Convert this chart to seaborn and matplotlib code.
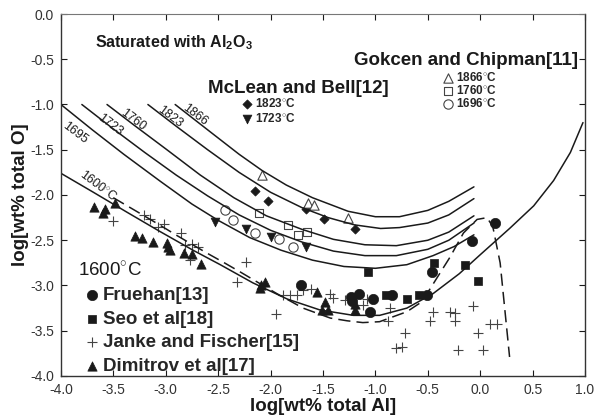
import numpy as np
import pandas as pd
import matplotlib.pyplot as plt
import seaborn as sns
from matplotlib.legend import Legend

sns.set_style("ticks")
plt.rcParams["font.family"] = ["Liberation Sans", "DejaVu Sans"]
plt.rcParams["mathtext.fontset"] = "custom"
plt.rcParams["mathtext.rm"] = "Liberation Sans"
plt.rcParams["mathtext.bf"] = "Liberation Sans:bold"

# ============================================================
# EQUILIBRIUM CURVES
# ============================================================

c1600_x = [-4.0, -3.69, -3.37, -3.06, -2.74, -2.48, -2.17, -1.84, -1.53, -1.21, -0.96, -0.70, -0.45, -0.20, 0.0, 0.28, 0.51, 0.70, 0.86, 0.98]
c1600_y = [-1.76, -1.97, -2.19, -2.40, -2.61, -2.77, -2.97, -3.15, -3.27, -3.33, -3.33, -3.25, -3.09, -2.87, -2.66, -2.37, -2.12, -1.84, -1.53, -1.20]

c1695_x = [-4.0, -3.7, -3.4, -3.05, -2.75, -2.5, -2.2, -1.9, -1.6, -1.3, -1.0, -0.7, -0.45, -0.25, -0.06]
c1695_y = [-1.00, -1.28, -1.55, -1.85, -2.10, -2.28, -2.47, -2.61, -2.72, -2.79, -2.81, -2.77, -2.67, -2.57, -2.44]

c1723_x = [-3.80, -3.5, -3.2, -2.9, -2.6, -2.3, -2.0, -1.7, -1.4, -1.1, -0.8, -0.5, -0.3, -0.06]
c1723_y = [-1.00, -1.27, -1.53, -1.78, -2.01, -2.22, -2.39, -2.52, -2.62, -2.67, -2.67, -2.60, -2.50, -2.31]

c1760_x = [-3.56, -3.3, -3.0, -2.67, -2.35, -2.04, -1.7, -1.4, -1.1, -0.8, -0.5, -0.3, -0.06]
c1760_y = [-1.00, -1.23, -1.49, -1.78, -2.03, -2.23, -2.38, -2.49, -2.55, -2.56, -2.50, -2.41, -2.23]

c1823_x = [-3.17, -2.9, -2.6, -2.3, -2.0, -1.7, -1.45, -1.2, -0.95, -0.77, -0.5, -0.3, -0.06]
c1823_y = [-1.00, -1.24, -1.50, -1.75, -1.97, -2.14, -2.25, -2.33, -2.37, -2.36, -2.31, -2.22, -2.04]

c1866_x = [-2.91, -2.6, -2.3, -2.08, -1.85, -1.6, -1.26, -1.0, -0.77, -0.5, -0.3, -0.06]
c1866_y = [-1.00, -1.28, -1.55, -1.73, -1.89, -2.03, -2.18, -2.24, -2.24, -2.17, -2.07, -1.91]

# dashed 1600 curve (other model)
dash_x = [-3.50, -3.25, -3.06, -2.89, -2.61, -2.44, -2.29, -1.94, -1.69, -1.43, -1.27, -1.12, -0.96, -0.70, -0.57, -0.48, -0.29, -0.16, -0.03, 0.065, 0.12, 0.19, 0.28]
dash_y = [-2.03, -2.20, -2.33, -2.45, -2.64, -2.75, -2.85, -3.09, -3.25, -3.36, -3.39, -3.41, -3.40, -3.29, -3.19, -3.04, -2.69, -2.42, -2.27, -2.25, -2.35, -2.75, -3.79]

curve_labels = ["1866", "1823", "1760", "1723", "1695", "1600$^{\\circ}$C"]
label_x = [-2.72, -2.96, -3.31, -3.53, -3.87, -3.64]
label_y = [-1.12, -1.14, -1.17, -1.23, -1.32, -1.90]

# ============================================================
# EXPERIMENTAL DATA
# ============================================================

# McLean and Bell
mb1823_x = [-2.15, -2.02, -1.66, -1.49, -1.19]
mb1823_y = [-1.96, -2.07, -2.15, -2.27, -2.38]
mb1723_x = [-2.53, -2.23, -2.00, -1.66]
mb1723_y = [-2.30, -2.38, -2.46, -2.57]

# Gokcen and Chipman
gc1866_x = [-2.08, -1.64, -1.59, -1.26]
gc1866_y = [-1.78, -2.09, -2.11, -2.25]
gc1760_x = [-2.11, -1.83, -1.74, -1.65]
gc1760_y = [-2.20, -2.33, -2.44, -2.41]
gc1696_x = [-2.43, -2.36, -2.15, -1.92, -1.79]
gc1696_y = [-2.17, -2.28, -2.42, -2.49, -2.57]

# 1600 C data
fru_x = [-1.71, -1.23, -1.16, -1.22, -1.02, -1.05, -0.84, -0.51, -0.46, -0.08, 0.14]
fru_y = [-3.00, -3.13, -3.09, -3.17, -3.15, -3.29, -3.10, -3.10, -2.85, -2.51, -2.31]

seo_x = [-1.07, -0.90, -0.70, -0.58, -0.44, -0.15, -0.02]
seo_y = [-2.85, -3.10, -3.15, -3.10, -2.75, -2.77, -2.95]

jf_x = [-3.50, -3.21, -3.15, -3.07, -3.02, -2.85, -2.82, -2.75, -2.69, -2.77, -2.23, -2.32,
        -1.95, -1.88, -1.81, -1.75, -1.69, -1.61, -1.43, -1.40, -1.29, -1.12, -1.08, -0.86,
        -0.88, -0.72, -0.80, -0.75, -0.45, -0.48, -0.29, -0.24, -0.24, -0.07, -0.21, -0.02,
        0.03, 0.09, 0.16]
jf_y = [-2.29, -2.22, -2.27, -2.35, -2.32, -2.42, -2.55, -2.54, -2.57, -2.72, -2.74, -2.96,
        -3.31, -3.10, -3.10, -3.10, -3.05, -3.04, -3.09, -3.14, -3.16, -3.22, -3.15, -3.25,
        -3.39, -3.53, -3.69, -3.68, -3.29, -3.39, -3.29, -3.30, -3.39, -3.23, -3.71, -3.53,
        -3.71, -3.42, -3.42]

dim_x = [-3.68, -3.58, -3.60, -3.48, -3.29, -3.23, -3.12, -2.99, -2.98, -2.96, -2.83, -2.75,
         -2.66, -2.05, -2.09, -2.10, -1.56, -1.48, -1.51, -1.45, -1.19, -1.19]
dim_y = [-2.13, -2.15, -2.20, -2.09, -2.45, -2.48, -2.52, -2.53, -2.57, -2.61, -2.64, -2.65,
         -2.76, -2.96, -2.99, -3.03, -3.07, -3.18, -3.27, -3.27, -3.20, -3.27]

x_ticks = [-4.0, -3.5, -3.0, -2.5, -2.0, -1.5, -1.0, -0.5, 0.0, 0.5, 1.0]
y_ticks = [0.0, -0.5, -1.0, -1.5, -2.0, -2.5, -3.0, -3.5, -4.0]

# ============================================================
# PLOT
# ============================================================

ink = "#1a1a1a"

fig = plt.figure(figsize=(5.97, 4.18), dpi=100)
ax = fig.add_axes([0.102, 0.1005, 0.878, 0.866])

solid = [(c1600_x, c1600_y), (c1695_x, c1695_y), (c1723_x, c1723_y),
         (c1760_x, c1760_y), (c1823_x, c1823_y), (c1866_x, c1866_y)]
for cx, cy in solid:
    sns.lineplot(x=cx, y=cy, ax=ax, color=ink, lw=1.1, estimator=None, sort=False)

sns.lineplot(x=dash_x, y=dash_y, ax=ax, color=ink, lw=1.1, estimator=None, sort=False,
             linestyle=(0, (8, 4)))

for lab, lx, ly in zip(curve_labels, label_x, label_y):
    ax.text(lx, ly, lab, rotation=-37, ha="center", va="center", fontsize=9,
            color=ink, rotation_mode="anchor")

def pts(x, y, **kw):
    sns.scatterplot(x=x, y=y, ax=ax, legend=False, **kw)
    return ax.collections[-1]

h_mb1823 = pts(mb1823_x, mb1823_y, marker="D", s=22, color=ink, edgecolor=ink, linewidth=0.5)
h_mb1723 = pts(mb1723_x, mb1723_y, marker="v", s=40, color=ink, edgecolor=ink, linewidth=0.5)

h_gc1866 = pts(gc1866_x, gc1866_y, marker="^", s=45, facecolor="white", edgecolor="#444", linewidth=0.8)
h_gc1760 = pts(gc1760_x, gc1760_y, marker="s", s=28, facecolor="white", edgecolor="#444", linewidth=0.8)
h_gc1696 = pts(gc1696_x, gc1696_y, marker="o", s=45, facecolor="white", edgecolor="#444", linewidth=0.8)

h_jf = pts(jf_x, jf_y, marker="+", s=45, color="#444", linewidth=0.8)
h_dim = pts(dim_x, dim_y, marker="^", s=45, color=ink, edgecolor=ink, linewidth=0.5)
h_seo = pts(seo_x, seo_y, marker="s", s=32, color=ink, edgecolor=ink, linewidth=0.5)
h_fru = pts(fru_x, fru_y, marker="o", s=55, color=ink, edgecolor=ink, linewidth=0.5)

# ============================================================
# AXES
# ============================================================

ax.set_xlim(-4.0, 1.0)
ax.set_ylim(-4.0, 0.0)
ax.set_xticks(x_ticks)
ax.set_yticks(y_ticks)
ax.set_xticklabels([f"{v:.1f}" for v in x_ticks])
ax.set_yticklabels([f"{v:.1f}" for v in y_ticks])
ax.tick_params(direction="in", length=4, width=0.8, colors=ink, labelcolor="#333",
               labelsize=10, top=True, right=True, pad=5)

for side in ["left", "bottom", "right"]:
    ax.spines[side].set_color("#333")
    ax.spines[side].set_linewidth(1.0)
ax.spines["top"].set_color("#777")
ax.spines["top"].set_linewidth(0.8)
ax.spines["top"].set_linestyle((0, (1, 1)))

ax.set_xlabel("log[wt% total Al]", fontsize=13.5, fontweight="bold", color=ink, labelpad=1)
ax.set_ylabel("log[wt% total O]", fontsize=13.5, fontweight="bold", color=ink, labelpad=1)

ax.text(-3.67, -0.32, "Saturated with Al$_\\mathbf{2}$O$_\\mathbf{3}$", fontsize=11.5,
        fontweight="bold", color=ink, va="center", ha="left")

# ============================================================
# LEGENDS
# ============================================================

leg_kw = dict(frameon=False, handletextpad=0.2, borderaxespad=0, borderpad=0, handlelength=1.0)

ax.text(-2.60, -0.82, "McLean and Bell[12]", fontsize=13.5, fontweight="bold",
        color=ink, va="center", ha="left")
leg_mb = Legend(ax, [h_mb1823, h_mb1723], ["1823$^{\\circ}$C", "1723$^{\\circ}$C"],
                loc="upper left", bbox_to_anchor=(0.3435, 0.771),
                prop={"size": 8.5, "weight": "bold"}, labelspacing=0.15, **leg_kw)
ax.add_artist(leg_mb)

ax.text(-1.20, -0.51, "Gokcen and Chipman[11]", fontsize=13.5, fontweight="bold",
        color=ink, va="center", ha="left")
leg_gc = Legend(ax, [h_gc1866, h_gc1760, h_gc1696], ["1866$^{\\circ}$C", "1760$^{\\circ}$C", "1696$^{\\circ}$C"],
                loc="upper left", bbox_to_anchor=(0.727, 0.8425),
                prop={"size": 8.5, "weight": "bold"}, labelspacing=0.0, **leg_kw)
ax.add_artist(leg_gc)

ax.text(-3.84, -2.83, "1600$^{\\circ}$C", fontsize=13.5, color=ink, va="center", ha="left")
leg_16 = Legend(ax, [h_fru, h_seo, h_jf, h_dim],
                ["Fruehan[13]", "Seo et al[18]", "Janke and Fischer[15]", "Dimitrov et al[17]"],
                loc="lower left", bbox_to_anchor=(0.0448, 0.004),
                prop={"size": 13.5, "weight": "bold"}, labelspacing=0.34,
                frameon=False, handletextpad=0.2, borderaxespad=0, borderpad=0, handlelength=0.8)
ax.add_artist(leg_16)

fig.savefig("out.png", dpi=100)
